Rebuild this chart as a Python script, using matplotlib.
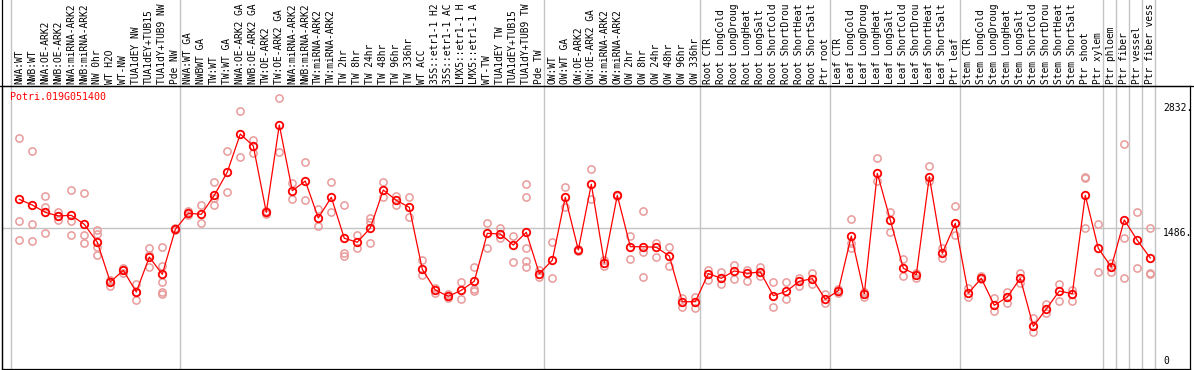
import matplotlib
matplotlib.use("Agg")
import matplotlib.pyplot as plt
from matplotlib.lines import Line2D
import matplotlib.transforms as mtransforms

title = "Potri.019G051400"

# sample names as far as they are visible in the header strip (14 chars)
labels = ["NWA:WT", "NWB:WT", "NWA:OE-ARK2", "NWB:OE-ARK2", "NWA:miRNA-ARK2", "NWB:miRNA-ARK2",
          "NW 0hr", "WT H2O", "WT-NW", "TUA1dEY NW", "TUA1dEY+TUB15", "TUA1dY+TUB9 NW", "Pde NW",
          "NWA:WT GA", "NWBWT GA", "TW:WT", "TW:WT GA", "NWA:OE-ARK2 GA", "NWB:OE-ARK2 GA",
          "TW:OE-ARK2", "TW:OE-ARK2 GA", "NWA:miRNA-ARK2", "NWB:miRNA-ARK2", "TW:miRNA-ARK2",
          "TW:miRNA-ARK2", "TW 2hr", "TW 8hr", "TW 24hr", "TW 48hr", "TW 96hr", "TW 336hr", "WT ACC",
          "35S::etr1-1 H2", "35S::etr1-1 AC", "LMX5::etr1-1 H", "LMX5::etr1-1 A", "WT-TW",
          "TUA1dEY TW", "TUA1dEY+TUB15", "TUA1dY+TUB9 TW", "Pde TW",
          "OW:WT", "OW:WT GA", "OW:OE-ARK2", "OW:OE-ARK2 GA", "OW:miRNA-ARK2", "OW:miRNA-ARK2",
          "OW 2hr", "OW 8hr", "OW 24hr", "OW 48hr", "OW 96hr", "OW 336hr",
          "Root CTR", "Root LongCold", "Root LongDroug", "Root LongHeat", "Root LongSalt",
          "Root ShortCold", "Root ShortDrou", "Root ShortHeat", "Root ShortSalt", "Ptr root",
          "Leaf CTR", "Leaf LongCold", "Leaf LongDroug", "Leaf LongHeat", "Leaf LongSalt",
          "Leaf ShortCold", "Leaf ShortDrou", "Leaf ShortHeat", "Leaf ShortSalt", "Ptr leaf",
          "Stem CTR", "Stem LongCold", "Stem LongDroug", "Stem LongHeat", "Stem LongSalt",
          "Stem ShortCold", "Stem ShortDrou", "Stem ShortHeat", "Stem ShortSalt", "Ptr shoot",
          "Ptr xylem", "Ptr phloem", "Ptr fiber", "Ptr vessel", "Ptr fiber vess"]

# mean expression per sample
means = [1794, 1733, 1654, 1615, 1622, 1525, 1332, 904, 1030, 797, 1173, 987, 1471,
         1644, 1633, 1837, 2088, 2497, 2368, 1654, 2594, 1887, 1991, 1593, 1816, 1375, 1332,
         1485, 1894, 1784, 1708, 1041, 818, 750, 815, 912, 1428, 1421, 1302, 1439, 994,
         1138, 1816, 1249, 1956, 1112, 1837, 1284, 1284, 1278, 1184, 692, 692,
         994, 944, 1023, 998, 1012, 757, 804, 912, 940, 718,
         811, 1399, 778, 2074, 1572, 1052, 983, 2038, 1213, 1536,
         783, 944, 653, 743, 944, 427, 614, 807, 778, 1837, 1267,
         1066, 1572, 1353, 1163]

# replicate values
reps = [[2451, 1561, 1353], [2314, 1525, 1346], [1827, 1711, 1428], [1654, 1615, 1575],
        [1894, 1558, 1407], [1859, 1407, 1321], [1464, 1421, 1284, 1195], [926, 861, 915],
        [1004, 1055, 1030], [883, 710, 797], [1267, 1062, 1190], [1281, 1076, 899, 797, 775],
        [1482, 1460, 1470],
        [1672, 1625], [1733, 1536], [1977, 1730, 1810], [2314, 1873], [2742, 2246], [2433, 2290],
        [1672, 1639], [2882, 2303], [1973, 1794], [2196, 1784], [1687, 1507], [1977, 1654],
        [1730, 1220, 1187], [1410, 1273], [1596, 1553, 1321], [1977, 1822], [1830, 1733],
        [1822, 1601], [1141, 980], [836, 789], [771, 729], [904, 721], [1066, 829, 807],
        [1536, 1273], [1482, 1375], [1403, 1116], [1956, 1816, 1267, 1133, 1062], [1033, 955],
        [1332, 944], [1924, 1708], [1256, 1235], [2121, 1798], [1141, 1076], [1844, 1830],
        [1399, 1148], [1668, 1230, 955], [1327, 1177], [1281, 1076], [729, 632], [746, 621],
        [1033, 926], [1012, 879], [1087, 933], [1033, 918], [1069, 969], [907, 638], [907, 718],
        [944, 864], [1004, 883], [775, 675],
        [832, 783], [1582, 1321, 1267], [800, 739], [2236, 1995], [1661, 1439], [1148, 969],
        [1004, 944], [2153, 1995], [1267, 1159], [1722, 1410],
        [836, 739], [972, 936], [729, 595], [800, 675], [1004, 890], [520, 369], [664, 574],
        [883, 700], [818, 703], [2031, 2020, 1482], [1528, 1015],
        [1105, 1015], [2386, 1375, 944], [1654, 1052], [1482, 1004, 994]]

# first index of each group (grey separators)
group_starts = [0, 13, 41, 53, 63, 73, 84, 85, 86, 87, 88]
yticks = [2832, 1486, 0]

W, H = 1194, 370
fig = plt.figure(figsize=(W / 100, H / 100), dpi=100)
left, right, top, bottom = 1.5, 1190, 86, 369
ax = fig.add_axes([left / W, (H - bottom) / H, (right - left) / W, (bottom - top) / H])

x = list(range(len(means)))
ax.set_xlim((left - 19.3) / 13.0, (right - 19.3) / 13.0)
ax.set_ylim((366 - bottom) * 10.764, (366 - top) * 10.764)
ax.set_xticks([])
ax.set_yticks([])
for s in ax.spines.values():
    s.set_linewidth(0.9)
    s.set_color("black")

grey = "#c4c4c4"
mono = "DejaVu Sans Mono"

# horizontal grid at 1486
ax.hlines(1486, (left - 19.3) / 13.0, (1160 - 19.3) / 13.0, color=grey, lw=1, zorder=1)

# vertical separators (go up into label area)
tr = mtransforms.blended_transform_factory(ax.transData, ax.transAxes)
for g in group_starts:
    ax.plot([g - 0.65, g - 0.65], [0, bottom / (bottom - top)], color=grey, lw=1,
            transform=tr, clip_on=False, zorder=1)

# replicates
for i in range(len(reps)):
    ax.plot([i] * len(reps[i]), reps[i], linestyle="none", marker="o", ms=5.2, mfc="none",
            mec="#e99a9a", mew=1.1, zorder=2)

ax.plot(x, means, color="red", lw=0.9, zorder=3)
ax.plot(x, means, linestyle="none", marker="o", ms=5.4, mfc="none", mec="red", mew=1.3, zorder=4)

# sample labels
ylab = (bottom - 84) / (bottom - top)
for i in range(len(labels)):
    ax.text(i, ylab, labels[i], transform=tr, rotation=90, ha="center", va="bottom",
            fontsize=6.9, family=mono, clip_on=False)

ax.text((10 - 19.3) / 13.0, (366 - 97) * 10.764, title, color="red", fontsize=7.2,
        family=mono, va="center", ha="left")

# right side value labels
xr = (1163 - 19.3) / 13.0
ax.text(xr, yticks[0], "2832.", fontsize=7, family=mono, va="top", ha="left")
ax.text(xr, yticks[1], "1486.", fontsize=7, family=mono, va="top", ha="left")
ax.text(xr, yticks[2], "0", fontsize=7, family=mono, va="bottom", ha="left")

# top border line and left border through label area
fig.add_artist(Line2D([0, 1], [(H - top) / H, (H - top) / H], color="black", lw=0.9))
fig.add_artist(Line2D([left / W, left / W], [0, 1], color="black", lw=0.9))

fig.savefig("out.png", dpi=100)
